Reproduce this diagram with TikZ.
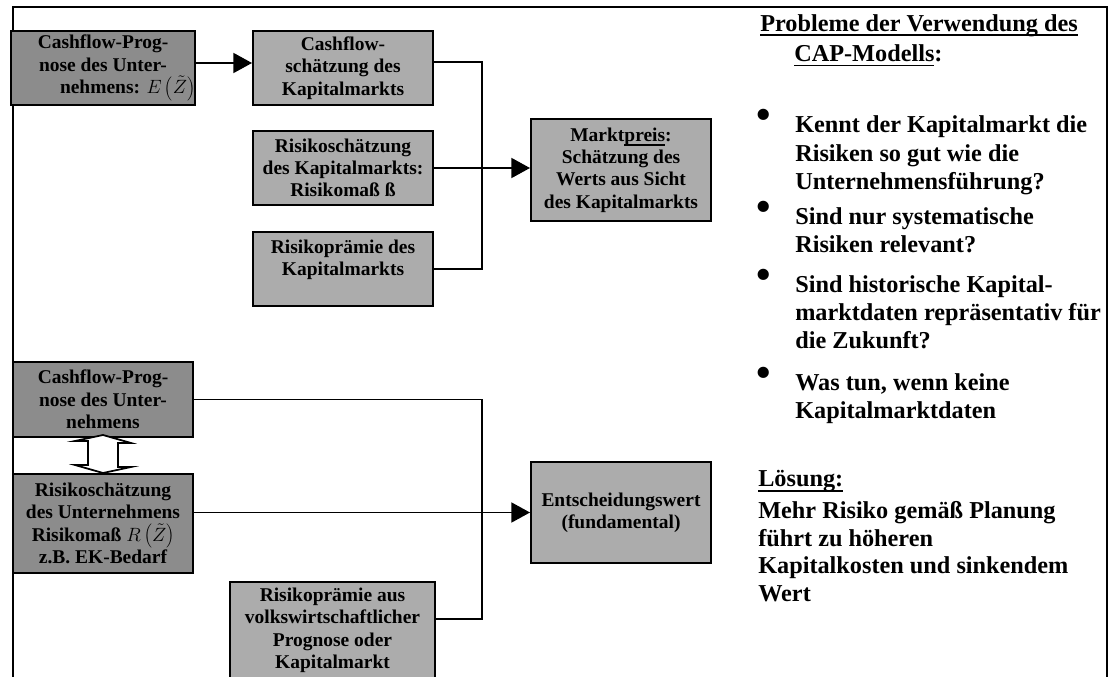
\documentclass[tikz,border=0pt]{standalone}
\usepackage{fontspec}
\usepackage{graphicx}
\setmainfont{Liberation Serif}
\usetikzlibrary{arrows.meta,calc}
\newlength\pxl \setlength\pxl{0.75pt}
\newsavebox{\myulbox}
\newcommand{\myul}[1]{\leavevmode\sbox{\myulbox}{#1}\rlap{\rule[-3.6pt]{\wd\myulbox}{1.4pt}}\usebox{\myulbox}}
\newcommand{\mybul}{\llap{\raisebox{4\pxl}{\scalebox{1.7}{\textbullet}}\hspace{24\pxl}}}
\definecolor{darkbox}{RGB}{140,140,140}
\definecolor{lightbox}{RGB}{172,172,172}
\begin{document}
\begin{tikzpicture}[x=0.75pt,y=-0.75pt,
  box/.style={draw=black, line width=1.5pt, inner sep=0pt, align=center,
    font=\fontsize{14.6pt}{16.7pt}\selectfont\bfseries, minimum width=135pt},
  dbox/.style={box, fill=darkbox},
  lbox/.style={box, fill=lightbox},
  conn/.style={line width=1.4pt},
  arr/.style={conn, -{Triangle[length=14pt,width=15pt]}},
  rtext/.style={anchor=base west, align=left, inner sep=0pt,
    font=\fontsize{18.2pt}{20.8pt}\selectfont\bfseries},
  frame/.style={line width=1.5pt},
  dblarr/.style={draw=black, fill=white, line width=1.3pt, line join=miter}
]
\useasboundingbox (0,0) rectangle (1112,677);
\clip (0,0) rectangle (1112,677);

% frame
\draw[frame] (13,700) -- (13,7) -- (1107,7) -- (1107,700);

% upper part
\node[dbox, minimum height=55.5pt] (b1) at (103,68)
  {Cashflow-Prog-\\nose des Unter-\\\hspace*{49\pxl}nehmens: $E\left(\tilde{Z}\right)$};
\node[lbox, minimum height=55.5pt] (b2) at (343,68)
  {Cashflow-\\schätzung des\\Kapitalmarkts};
\node[lbox, minimum height=55.5pt] (b3) at (343,168)
  {Risikoschätzung\\des Kapitalmarkts:\\Risikomaß ß};
\node[lbox, minimum height=55.5pt] (b4) at (343,269)
  {Risikoprämie des\\Kapitalmarkts\\\mbox{}};
\node[lbox, minimum height=76.5pt] (mp) at (621,170)
  {Markt\myul{preis}:\\Schätzung des\\Werts aus Sicht\\des Kapitalmarkts};

% lower part
\node[dbox, minimum height=56.25pt] (b5) at (103,399.5)
  {Cashflow-Prog-\\nose des Unter-\\nehmens};
\node[dbox, minimum height=74.25pt] (b6) at (103,523.5)
  {Risikoschätzung\\des Unternehmens\\Risikomaß $R\left(\tilde{Z}\right)$\\z.B. EK-Bedarf};
\node[lbox, minimum height=75.75pt] (ew) at (621,512.5)
  {Entscheidungswert\\(fundamental)};
\node[lbox, anchor=north, minimum width=153.75pt] (b7) at (332.5,581)
  {\parbox[c][110\pxl][t]{200\pxl}{\centering\vspace*{6\pxl}Risikoprämie aus\\volkswirtschaftlicher\\Prognose oder\\Kapitalmarkt}};

% connectors
\coordinate (jx) at (482,0);
\coordinate (b7c) at ($(b7.north east)+(0,38)$);
\draw[arr] ([yshift=3.75pt]b1.east) -- ([yshift=3.75pt]b2.west);
\draw[conn] ([yshift=4.5pt]b2.east) -| (jx |- b4.east) -- (b4.east);
\draw[arr] (b3.east) -- (b3.east -| mp.west);
\draw[conn] (b5.east) -| (jx |- b7c) -- (b7c);
\draw[arr] (ew.west -| b6.east) -- (ew.west);

% double arrow between b5 and b6
\draw[dblarr] ($(b5.south)+(0,-3)$) -- ++(28,8) -- ++(-13,0) -- ++(0,24) -- ++(13,0)
  -- (b6.north) -- ++(-28,-8) -- ++(13,0) -- ++(0,-24) -- ++(-13,0) -- cycle;

% right text (anchor = baseline of the last line)
\node[rtext, font=\fontsize{18.2pt}{23pt}\selectfont\bfseries] (tp) at (760,61.7)
  {\myul{Probleme der Verwendung des}\\\hspace*{34\pxl}\myul{CAP-Modells}:};
\node[rtext, font=\fontsize{18.2pt}{21.4pt}\selectfont\bfseries] (p1) at (795,190)
  {\mybul Kennt der Kapitalmarkt die\\Risiken so gut wie die\\Unternehmensführung?};
\node[rtext] (p2) at (795,252.3)
  {\mybul Sind nur systematische\\Risiken relevant?};
\node[rtext] (p3) at (795,348.3)
  {\mybul Sind historische Kapital-\\marktdaten repräsentativ für\\die Zukunft?};
\node[rtext] (p4) at (795,418.3)
  {\mybul Was tun, wenn keine\\Kapitalmarktdaten};
\node[rtext] (ls) at (758,601.7)
  {\myul{Lösung:}\\[3pt]Mehr Risiko gemäß Planung\\führt zu höheren\\Kapitalkosten und sinkendem\\Wert};
\end{tikzpicture}
\end{document}
